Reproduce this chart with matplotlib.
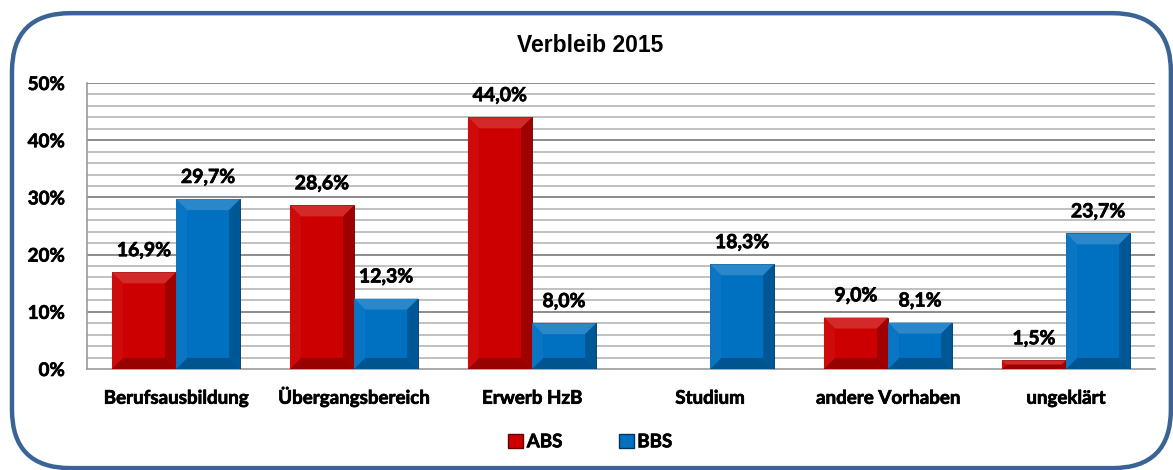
import matplotlib
matplotlib.use("Agg")
import matplotlib.pyplot as plt
import matplotlib.colors as mc
import matplotlib.patheffects as pe
from matplotlib.patches import FancyBboxPatch, Polygon, Patch
import numpy as np

categories = ["Berufsausbildung", "Übergangsbereich", "Erwerb HzB", "Studium", "andere Vorhaben", "ungeklärt"]
abs_vals = [16.9, 28.6, 44.0, None, 9.0, 1.5]
bbs_vals = [29.7, 12.3, 8.0, 18.3, 8.1, 23.7]
series_names = ["ABS", "BBS"]
title = "Verbleib 2015"

RED = "#CC0000"
BLUE = "#0070C0"
FONT = "Lato"
BOLDER = [pe.withStroke(linewidth=0.5, foreground="black")]

fig = plt.figure(figsize=(11.73, 4.70), dpi=100)
ax = fig.add_axes([0.0742, 0.2149, 0.9105, 0.6085])

frame = FancyBboxPatch((0.0102, 0.004), 0.988, 0.968, boxstyle="round,pad=0,rounding_size=0.05",
                       transform=fig.transFigure, fill=False, edgecolor="#3A6496", linewidth=3.2,
                       mutation_aspect=1173/470)
fig.patches.append(frame)

x = np.arange(len(categories))
w = 0.36

def lighten(c, f):
    r = np.array(mc.to_rgb(c))
    return tuple(r + (1 - r) * f)

def darken(c, f):
    r = np.array(mc.to_rgb(c))
    return tuple(r * (1 - f))

ax.set_xlim(-0.5, len(categories) - 0.5)
ax.set_ylim(0, 50)

px_x = (len(categories)) / (0.9105 * 1173)
px_y = 50 / (0.6085 * 470)

def bevel_bar(xc, h, color):
    if h is None:
        return
    x0, x1 = xc - w / 2, xc + w / 2
    ax.bar(xc, h, width=w, color=color, edgecolor=darken(color, 0.55), linewidth=0.6, zorder=3)
    bx = 11 * px_x
    by = min(11 * px_y, h / 2)
    bxx = bx * (by / (11 * px_y))
    ax.add_patch(Polygon([(x0, h), (x1, h), (x1 - bxx, h - by), (x0 + bxx, h - by)],
                         closed=True, facecolor=lighten(color, 0.16), edgecolor="none", zorder=4))
    ax.add_patch(Polygon([(x0, 0), (x1, 0), (x1 - bxx, by), (x0 + bxx, by)],
                         closed=True, facecolor=darken(color, 0.25), edgecolor="none", zorder=4))
    ax.add_patch(Polygon([(x0, 0), (x0, h), (x0 + bxx, h - by), (x0 + bxx, by)],
                         closed=True, facecolor=lighten(color, 0.04), edgecolor="none", zorder=4))
    ax.add_patch(Polygon([(x1, 0), (x1, h), (x1 - bxx, h - by), (x1 - bxx, by)],
                         closed=True, facecolor=darken(color, 0.22), edgecolor="none", zorder=4))
    ax.text(xc, h + 2.3, f"{h:.1f}%".replace(".", ","), ha="center", va="bottom",
            fontsize=14, fontweight="bold", family=FONT, zorder=5, path_effects=BOLDER)

for i in range(len(categories)):
    bevel_bar(x[i] - w / 2, abs_vals[i], RED)
    bevel_bar(x[i] + w / 2, bbs_vals[i], BLUE)

for v in np.arange(2, 50.1, 2):
    major = (v % 10 == 0)
    ax.axhline(v, color="#8C8C8C" if major else "#C0C0C0", linewidth=1.4, zorder=1)

ax.set_yticks(np.arange(0, 51, 10))
ax.set_yticklabels([f"{int(v)}%" for v in np.arange(0, 51, 10)], fontsize=13.5,
                   fontweight="bold", family=FONT, path_effects=BOLDER)
ax.set_xticks(x)
ax.set_xticklabels(categories, fontsize=13.5, fontweight="bold", family=FONT, va="baseline",
                   path_effects=BOLDER)
ax.tick_params(axis="x", length=0, pad=25)
ax.tick_params(axis="y", length=0, pad=16)
for s in ["top", "right"]:
    ax.spines[s].set_visible(False)
for s in ["left", "bottom"]:
    ax.spines[s].set_color("#999999")
    ax.spines[s].set_linewidth(1.2)

fig.text(0.503, 0.903, title, ha="center", va="center", fontsize=16.5, fontweight="bold",
         family="Liberation Sans")

handles = [Patch(facecolor=RED, edgecolor=darken(RED, 0.5)), Patch(facecolor=BLUE, edgecolor=darken(BLUE, 0.5))]
leg = fig.legend(handles, series_names, loc="center", bbox_to_anchor=(0.503, 0.06), ncol=2,
                 frameon=False, handlelength=0.8, handleheight=0.8, handletextpad=0.2,
                 columnspacing=3.0, prop={"family": FONT, "weight": "bold", "size": 13.5})
for t in leg.get_texts():
    t.set_path_effects(BOLDER)

fig.savefig("out.png", dpi=100)
